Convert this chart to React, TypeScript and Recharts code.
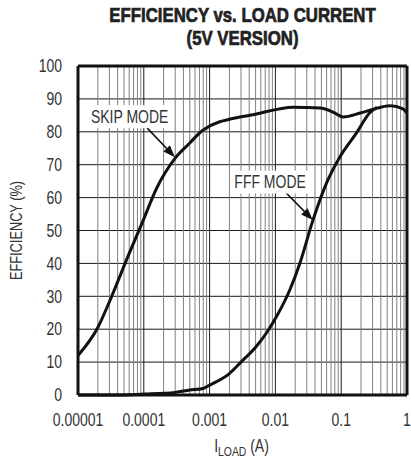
import { CartesianGrid, Line, LineChart, ReferenceDot, ReferenceLine, XAxis, YAxis } from "recharts"

const FONT = "'Liberation Sans', Arial, sans-serif"
const NARROW = 0.8

const xTicks = [0.00001, 0.0001, 0.001, 0.01, 0.1, 1]
const xTickLabels = ["0.00001", "0.0001", "0.001", "0.01", "0.1", "1"]
const yTicks = [0, 10, 20, 30, 40, 50, 60, 70, 80, 90, 100]
const minorSteps = [2, 3, 4, 5, 6, 7, 8, 9]

// SKIP MODE curve
const skipCurrent = [
  0.00001, 0.00002, 0.000031, 0.000057, 0.000093, 0.000158, 0.0003, 0.0005, 0.00079, 0.0029, 0.0041, 0.0186,
  0.048, 0.075, 0.107, 0.195, 0.3, 0.55, 0.87, 1,
]
const skipEfficiency = [
  12, 20.5, 29, 42, 52, 63, 72, 76.6, 80.5, 84.5, 85, 87.5, 87.2, 86, 84.5, 85.7, 86.8, 87.9, 87, 85.7,
]

// FFF MODE curve
const fffCurrent = [
  0.00001, 0.00003, 0.0001, 0.0003, 0.0005, 0.0008, 0.001, 0.002, 0.003, 0.005, 0.0074, 0.0105, 0.0166, 0.0235,
  0.037, 0.06, 0.095, 0.17, 0.27, 0.35,
]
const fffEfficiency = [0, 0, 0.3, 0.8, 1.5, 2, 3, 6.5, 10, 14.5, 19, 24, 32, 40, 53, 64.5, 72.3, 79.6, 85.7, 87.5]

const skipData = skipCurrent.map((x, i) => ({ x, y: skipEfficiency[i] }))
const fffData = fffCurrent.map((x, i) => ({ x, y: fffEfficiency[i] }))
const minorX = xTicks.slice(0, -1).flatMap((d) => minorSteps.map((m) => d * m))

// condensed look: squeeze Liberation Sans horizontally around its anchor
function NText({ x, y, anchor = "middle", size = 17, dy, rotate, children, ...rest }: any) {
  const t = rotate ? `translate(${x} ${y}) rotate(${rotate}) scale(${NARROW} 1)` : `translate(${x} ${y}) scale(${NARROW} 1)`
  return (
    <text transform={t} textAnchor={anchor} dy={dy} fontFamily={FONT} fontSize={size} fill="#333" {...rest}>
      {children}
    </text>
  )
}

function XTick(props: any) {
  const { x, y, payload } = props
  const i = xTicks.indexOf(payload.value)
  return (
    <NText x={x} y={y} size={17.5} dy="0.71em">
      {xTickLabels[i] ?? payload.value}
    </NText>
  )
}

function YTick(props: any) {
  const { x, y, payload } = props
  return (
    <NText x={x} y={y} size={17.5} dy="0.355em" anchor="end">
      {payload.value}
    </NText>
  )
}

function Arrow(props: any) {
  const { x1, y1, x2, y2 } = props
  const ang = Math.atan2(y2 - y1, x2 - x1)
  const len = 12
  const half = 4.5
  const bx = x2 - len * Math.cos(ang)
  const by = y2 - len * Math.sin(ang)
  const px = -Math.sin(ang) * half
  const py = Math.cos(ang) * half
  return (
    <g>
      <line x1={x1} y1={y1} x2={bx} y2={by} stroke="#111" strokeWidth={1.6} />
      <polygon points={`${x2},${y2} ${bx + px},${by + py} ${bx - px},${by - py}`} fill="#111" />
    </g>
  )
}

function boxLabel(text: string, w: number) {
  return (props: any) => (
    <g>
      <rect x={props.cx - w / 2} y={props.cy - 11.5} width={w} height={23} fill="#fff" />
      <NText x={props.cx} y={props.cy} size={17.5} dy="0.36em">
        {text}
      </NText>
    </g>
  )
}

function XLabel(props: any) {
  const { x, y, width } = props.viewBox
  return (
    <NText x={x + width / 2 - 1} y={y + 57} size={17.5}>
      I
      <tspan fontSize={13} dy={4}>
        LOAD
      </tspan>
      <tspan dy={-4}> (A)</tspan>
    </NText>
  )
}

function YLabel(props: any) {
  const { y, height } = props.viewBox
  return (
    <NText x={16} y={y + height / 2} rotate={-90} size={16} dy="0.36em">
      EFFICIENCY (%)
    </NText>
  )
}

function Title() {
  const cx = 242.5
  return (
    <svg width={411} height={60} style={{ position: "absolute", left: 0, top: 0 }}>
      <g fontFamily={FONT} fontWeight={700} fontSize={20} fill="#222" stroke="#222" strokeWidth={0.7}>
        <text transform={`translate(${cx} 22) scale(0.84 1)`} textAnchor="middle">
          EFFICIENCY vs. LOAD CURRENT
        </text>
        <text transform={`translate(${cx} 45) scale(0.84 1)`} textAnchor="middle">
          (5V VERSION)
        </text>
      </g>
    </svg>
  )
}

export default function App() {
  return (
    <div style={{ position: "absolute", left: 0, top: 0, width: 411, height: 460, background: "#fff" }}>
      <div style={{ position: "absolute", left: 0, top: 0 }}>
        <LineChart width={411} height={460} margin={{ top: 66, right: 4, left: 0, bottom: 0 }}>
          <CartesianGrid stroke="#1a1a1a" strokeWidth={1} />
          {minorX.map((v) => (
            <ReferenceLine key={v} x={v} stroke="#808080" strokeWidth={1} />
          ))}
          <XAxis
            dataKey="x"
            type="number"
            scale="log"
            domain={[0.00001, 1]}
            ticks={xTicks}
            allowDataOverflow
            axisLine={false}
            tickLine={false}
            tickSize={0}
            tickMargin={19}
            height={65}
            interval={0}
            tick={<XTick />}
            label={<XLabel />}
          />
          <YAxis
            type="number"
            domain={[0, 100]}
            ticks={yTicks}
            axisLine={false}
            tickLine={false}
            tickSize={0}
            tickMargin={16}
            width={78}
            interval={0}
            tick={<YTick />}
            label={<YLabel />}
          />
          <Line
            data={skipData}
            dataKey="y"
            type="monotone"
            stroke="#111"
            strokeWidth={3}
            dot={false}
            isAnimationActive={false}
          />
          <Line
            data={fffData}
            dataKey="y"
            type="monotone"
            stroke="#111"
            strokeWidth={3}
            dot={false}
            isAnimationActive={false}
          />
          <ReferenceLine x={0.00001} stroke="#111" strokeWidth={3} />
          <ReferenceLine x={1} stroke="#111" strokeWidth={3} />
          <ReferenceLine y={0} stroke="#111" strokeWidth={3} />
          <ReferenceLine y={100} stroke="#111" strokeWidth={3} />
          <ReferenceDot x={0.000061} y={84.6} shape={boxLabel("SKIP MODE", 82)} />
          <ReferenceDot x={0.0083} y={64.7} shape={boxLabel("FFF MODE", 76)} />
          <ReferenceLine
            segment={[
              { x: 0.000112, y: 81.2 },
              { x: 0.000297, y: 72.3 },
            ]}
            shape={Arrow}
          />
          <ReferenceLine
            segment={[
              { x: 0.0141, y: 61.7 },
              { x: 0.037, y: 53.2 },
            ]}
            shape={Arrow}
          />
        </LineChart>
      </div>
      <Title />
    </div>
  )
}
